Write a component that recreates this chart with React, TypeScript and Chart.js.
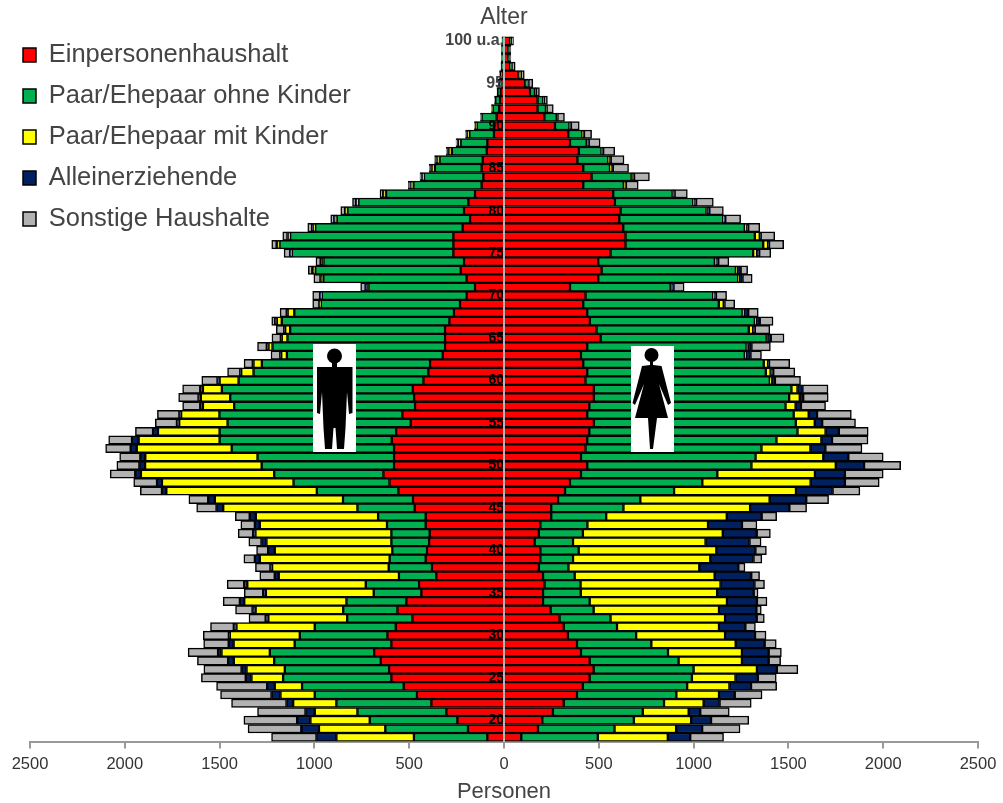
import React, { useEffect, useRef } from "react";
import { Chart, registerables } from "chart.js";

Chart.register(...registerables);

const ages = [18,19,20,21,22,23,24,25,26,27,28,29,30,31,32,33,34,35,36,37,38,39,40,41,42,43,44,45,46,47,48,49,50,51,52,53,54,55,56,57,58,59,60,61,62,63,64,65,66,67,68,69,70,71,72,73,74,75,76,77,78,79,80,81,82,83,84,85,86,87,88,89,90,91,92,93,94,95,96,97,98,99,100];
const seriesNames = ["Einpersonenhaushalt", "Paar/Ehepaar ohne Kinder", "Paar/Ehepaar mit Kinder", "Alleinerziehende", "Sonstige Haushalte"];
const seriesColors = ["#ff0000", "#00b050", "#ffff00", "#002060", "#b2b2b2"];
const xTicks = [-2500, -2000, -1500, -1000, -500, 0, 500, 1000, 1500, 2000, 2500];

const menRed = [88,190,246,304,383,459,529,594,606,650,685,594,615,571,483,562,515,436,448,357,380,413,406,395,392,413,413,471,480,557,604,636,580,580,580,592,569,492,536,469,474,481,425,399,390,323,311,311,311,288,264,232,197,153,197,228,211,267,267,267,218,179,211,188,153,118,109,118,112,91,88,53,53,39,25,21,16,12,7,5,4,4,4];
const menGreen = [387,436,462,469,501,539,536,571,550,562,550,510,462,427,344,286,316,251,281,197,228,190,183,199,202,204,251,302,369,430,506,576,698,720,856,908,931,966,965,954,970,1007,975,922,887,822,910,831,817,884,842,734,764,562,756,768,741,852,917,861,778,703,615,580,469,360,313,246,228,184,141,130,91,79,35,25,19,16,14,9,7,7,5];
const menYellow = [409,350,313,225,228,181,144,167,202,213,255,322,369,413,416,462,539,569,625,634,615,685,620,659,717,671,645,708,676,794,694,703,615,592,501,427,325,255,202,165,155,100,100,65,44,30,21,30,26,26,35,4,4,4,4,4,4,4,11,9,9,9,7,9,14,14,7,18,14,18,12,11,4,2,2,0,0,0,0,0,0,0,0];
const menNavy = [105,93,70,49,35,47,40,30,26,30,18,26,5,14,14,16,23,14,16,21,9,26,35,26,12,26,32,35,35,23,26,30,30,26,32,35,26,12,9,14,12,14,11,5,4,5,9,5,5,9,5,4,5,11,11,11,11,5,4,5,7,4,5,4,4,4,5,5,7,5,5,4,4,2,2,2,1,1,1,1,1,1,1];
const menGray = [237,281,281,253,290,269,267,234,199,162,158,132,135,123,88,90,88,100,90,79,79,58,61,67,79,74,76,105,102,114,123,132,119,109,132,123,93,114,116,93,105,93,83,67,46,49,49,47,42,18,35,35,39,26,35,21,25,32,26,25,23,19,23,18,14,9,9,7,5,7,7,5,4,2,2,2,1,1,1,1,1,1,1];

const womenRed = [91,179,202,258,315,385,416,452,473,452,406,385,337,315,293,246,206,206,214,206,184,192,192,162,184,192,249,249,285,322,348,406,439,406,430,439,450,474,439,450,474,474,430,439,418,406,439,510,488,453,439,418,430,348,497,515,497,562,641,641,629,608,615,585,576,418,462,418,387,395,348,339,269,213,177,177,137,111,76,32,23,23,32];
const womenGreen = [404,404,483,474,529,524,550,539,527,469,459,392,360,281,269,227,246,199,190,167,156,172,202,202,232,248,290,381,434,575,698,719,866,921,928,998,1098,1065,1089,1035,1030,1042,972,942,952,864,840,875,803,870,819,715,673,531,738,708,615,752,726,682,641,548,453,413,313,214,211,141,163,119,88,74,76,65,44,30,26,12,9,4,2,2,4];
const womenYellow = [369,325,302,242,209,225,223,230,334,334,390,445,469,538,604,661,724,719,738,738,690,724,726,699,738,636,636,668,682,643,571,515,445,357,258,237,148,100,79,53,56,32,9,25,23,5,5,4,23,5,7,26,4,4,4,4,4,21,26,26,9,4,4,4,4,4,4,4,4,4,4,4,4,2,2,2,2,2,2,2,0,0,0];
const womenNavy = [118,137,105,61,84,83,114,118,105,141,141,153,158,139,167,197,158,193,179,193,206,228,206,232,179,179,184,207,193,193,181,158,149,132,79,56,70,39,44,28,18,26,18,14,5,25,21,18,9,21,23,4,11,11,19,21,14,11,5,5,9,7,11,11,7,7,9,11,9,5,7,5,4,2,2,2,4,4,2,2,2,2,2];
const womenGray = [176,200,199,153,167,144,135,97,111,63,67,61,58,53,40,26,53,23,53,44,35,44,58,61,72,79,79,91,118,144,181,202,193,184,193,190,155,176,181,130,132,135,135,114,109,58,100,70,79,70,53,54,56,56,51,37,56,61,77,74,61,81,74,91,67,65,81,83,70,61,60,40,44,37,35,18,18,23,18,19,9,9,12];

const menSeries = [menRed, menGreen, menYellow, menNavy, menGray];
const womenSeries = [womenRed, womenGreen, womenYellow, womenNavy, womenGray];

function drawFigures(ctx: CanvasRenderingContext2D) {
  ctx.save();
  ctx.fillStyle = "#ffffff";
  ctx.fillRect(313, 344, 43, 108);
  ctx.fillRect(631, 346, 43, 106);
  ctx.fillStyle = "#000000";
  // man
  ctx.beginPath();
  ctx.arc(334.5, 356, 7.5, 0, Math.PI * 2);
  ctx.fill();
  ctx.beginPath();
  ctx.moveTo(332, 363); ctx.lineTo(337, 363); ctx.lineTo(337, 367);
  ctx.lineTo(352.5, 367); ctx.lineTo(352.5, 413); ctx.lineTo(349, 414);
  ctx.lineTo(347, 392); ctx.lineTo(347, 392); ctx.lineTo(345.5, 428);
  ctx.lineTo(344, 449); ctx.lineTo(337, 449); ctx.lineTo(335.5, 428);
  ctx.lineTo(333.5, 428); ctx.lineTo(332, 449); ctx.lineTo(325, 449);
  ctx.lineTo(323.5, 428); ctx.lineTo(322, 392); ctx.lineTo(322, 392);
  ctx.lineTo(320, 414); ctx.lineTo(317, 413); ctx.lineTo(317, 367);
  ctx.lineTo(332, 367); ctx.closePath();
  ctx.fill();
  // woman
  ctx.beginPath();
  ctx.arc(651.5, 355, 7, 0, Math.PI * 2);
  ctx.fill();
  ctx.beginPath();
  ctx.moveTo(650, 361); ctx.lineTo(653, 361); ctx.lineTo(653, 365);
  ctx.lineTo(661.5, 366); ctx.lineTo(671, 403); ctx.lineTo(668, 405);
  ctx.lineTo(659, 384); ctx.lineTo(668, 418); ctx.lineTo(657, 418);
  ctx.lineTo(653, 449); ctx.lineTo(650, 449); ctx.lineTo(648, 418);
  ctx.lineTo(635, 418); ctx.lineTo(644, 384); ctx.lineTo(635, 405);
  ctx.lineTo(632.5, 403); ctx.lineTo(642, 366); ctx.lineTo(650, 365);
  ctx.closePath();
  ctx.fill();
  ctx.restore();
}

const figurePlugin = {
  id: "figures",
  afterLayout(chart: any) {
    if (chart.legend) {
      chart.legend.left = 7.5;
      chart.legend.top = 26.75;
    }
  },
  afterDatasetsDraw(chart: any) {
    drawFigures(chart.ctx);
  },
};

export default function App() {
  const ref = useRef<HTMLCanvasElement | null>(null);
  useEffect(() => {
    document.body.style.margin = "0";
    const datasets: any[] = [];
    menSeries.forEach((vals, i) => {
      datasets.push({
        label: seriesNames[i],
        data: vals.map((v) => -v),
        backgroundColor: seriesColors[i],
        borderColor: "#000000",
        borderWidth: 1.5,
        borderSkipped: i === 0 ? "start" : false,
        stack: "p",
        barPercentage: 1,
        categoryPercentage: 1,
      });
    });
    womenSeries.forEach((vals, i) => {
      datasets.push({
        label: seriesNames[i],
        data: vals,
        backgroundColor: seriesColors[i],
        borderColor: "#000000",
        borderWidth: 1.5,
        borderSkipped: i === 0 ? "start" : false,
        stack: "p",
        barPercentage: 1,
        categoryPercentage: 1,
      });
    });
    const chart = new Chart(ref.current as HTMLCanvasElement, {
      type: "bar",
      data: { labels: ages.map(String), datasets },
      plugins: [figurePlugin],
      options: {
        indexAxis: "y",
        animation: false,
        responsive: false,
        layout: { padding: { left: 30, right: 25, top: 0, bottom: 0 } },
        plugins: {
          tooltip: { enabled: false },
          title: {
            display: true,
            text: "Alter",
            color: "#444444",
            font: { family: "Liberation Sans", size: 23, weight: "normal" },
            padding: { top: 4, bottom: 5 },
          },
          legend: {
            position: "chartArea",
            align: "start",
            labels: {
              filter: (item: any) => item.datasetIndex < 5,
              boxWidth: 13,
              boxHeight: 14,
              color: "#444444",
              font: { family: "Liberation Sans", size: 25.5 },
              padding: 15.5,
            },
          },
        },
        scales: {
          x: {
            type: "linear",
            min: -2500,
            max: 2500,
            stacked: true,
            afterBuildTicks: (s: any) => {
              s.ticks = xTicks.map((value) => ({ value }));
            },
            afterFit: (s: any) => {
              s.height = 61.5;
            },
            grid: { drawOnChartArea: false, drawTicks: true, tickLength: 7, color: "#999999", lineWidth: 2 },
            border: { color: "#999999", width: 2 },
            ticks: {
              color: "#333333",
              maxRotation: 0,
              padding: 6,
              font: { family: "Liberation Sans", size: 16.5 },
              callback: (v: any) => String(Math.abs(Number(v))),
            },
            title: {
              display: true,
              text: "Personen",
              color: "#444444",
              font: { family: "Liberation Sans", size: 22 },
              padding: { top: 0, bottom: -2 },
            },
          },
          y: {
            type: "category",
            reverse: true,
            stacked: true,
            position: { x: 0 },
            grid: { display: false },
            border: { display: true, color: "#b5b5b5", width: 2, dash: [3, 1], z: 2 },
            ticks: {
              z: 1,
              autoSkip: false,
              padding: 9,
              color: (c: any) => (ages[c.index] >= 95 ? "#444444" : "#000000"),
              font: (c: any) => ({
                family: "Liberation Sans",
                size: ages[c.index] >= 95 ? 16 : 14,
                weight: "bold",
              }),
              callback: function (this: any, v: any) {
                const age = ages[Number(v)];
                if (age === 100) return "100 u.a.";
                return age % 5 === 0 ? String(age) : "";
              },
            },
          },
        },
      } as any,
    } as any);
    return () => chart.destroy();
  }, []);
  return (
    <canvas
      ref={ref}
      width={1003}
      height={803}
      style={{ display: "block", width: 1003, height: 803, filter: "blur(0.5px)" }}
    />
  );
}
